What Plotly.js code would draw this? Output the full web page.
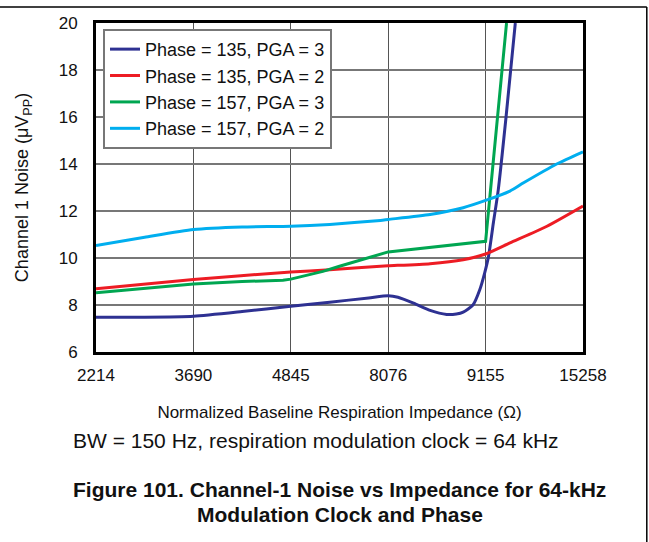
<!DOCTYPE html>
<html>
<head>
<meta charset="utf-8">
<script src="https://cdn.plot.ly/plotly-3.0.1.min.js"></script>
<style>html,body{margin:0;padding:0;background:#fff;}#chart{width:649px;height:542px;}</style>
</head>
<body>
<div id="chart"></div>
<script>
// Category tick labels (impedance, ohms) placed at equally spaced positions 0..5
const tickLabels = ['2214', '3690', '4845', '8076', '9155', '15258'];
const tickPositions = [0, 1, 2, 3, 4, 5];

// Series: x in category-index units, y in µVpp
const navyName = 'Phase = 135, PGA = 3';
const navyX = [0, 0.5, 1.0, 1.5, 2.0, 2.4, 2.8, 3.0, 3.1, 3.26, 3.43, 3.6, 3.7, 3.77, 3.87, 3.94, 3.99, 4.03, 4.08, 4.13, 4.21, 4.305];
const navyY = [7.48, 7.48, 7.52, 7.72, 7.95, 8.12, 8.3, 8.39, 8.33, 8.08, 7.77, 7.6, 7.62, 7.70, 8.0, 8.65, 9.36, 10.07, 11.5, 12.9, 16, 20];

const redName = 'Phase = 135, PGA = 2';
const redX = [0, 1, 2, 2.4, 2.92, 3.0, 3.43, 3.77, 4.0, 4.25, 4.63, 5.0];
const redY = [8.69, 9.09, 9.40, 9.50, 9.65, 9.67, 9.76, 9.93, 10.17, 10.64, 11.35, 12.21];

const greenName = 'Phase = 157, PGA = 3';
const greenX = [0, 1, 1.5, 1.92, 2.0, 2.16, 2.33, 2.5, 3.0, 4.0, 4.04, 4.12, 4.215];
const greenY = [8.52, 8.89, 9.0, 9.05, 9.1, 9.25, 9.43, 9.65, 10.26, 10.71, 12.5, 16, 20];

const blueName = 'Phase = 157, PGA = 2';
const blueX = [0, 0.5, 1.0, 1.5, 2.0, 2.4, 2.92, 3.0, 3.43, 3.77, 4.0, 4.25, 4.39, 4.73, 5.0];
const blueY = [10.53, 10.88, 11.21, 11.32, 11.35, 11.43, 11.6, 11.64, 11.85, 12.14, 12.45, 12.85, 13.2, 14.0, 14.52];

const FONT = 'Liberation Sans, Arial, Helvetica, sans-serif';

function tr(name, x, y, color, group, shape) {
  return {x: x, y: y, name: name, mode: 'lines', type: 'scatter', legendgroup: group,
          line: {color: color, width: 3, shape: shape, smoothing: 0.6}, cliponaxis: true};
}

const data = [
  tr(navyName, navyX, navyY, '#2e3192', 'a', 'spline'),
  tr(redName, redX, redY, '#ed1c24', 'b', 'spline'),
  tr(greenName, greenX, greenY, '#00a651', 'c', 'linear'),
  tr(blueName, blueX, blueY, '#00aeef', 'd', 'spline')
];

const layout = {
  width: 649, height: 542,
  margin: {l: 96, r: 66, t: 23, b: 190},
  paper_bgcolor: '#fff', plot_bgcolor: '#fff',
  font: {family: FONT, color: '#111', size: 17},
  showlegend: true,
  legend: {x: 0.0144, y: 0.982, xanchor: 'left', yanchor: 'top',
           bgcolor: '#fff', bordercolor: '#777', borderwidth: 2,
           entrywidth: 236, entrywidthmode: 'pixels',
           font: {family: FONT, size: 18, color: '#111'}, tracegroupgap: 0},
  xaxis: {range: [0, 5], tickvals: tickPositions, ticktext: tickLabels,
          showgrid: true, gridcolor: '#555', gridwidth: 1.2, zeroline: false,
          showline: true, linecolor: '#000', linewidth: 3, mirror: true,
          ticks: '', ticklabelstandoff: 6, tickfont: {size: 17, family: FONT},
          title: {text: 'Normalized Baseline Respiration Impedance (Ω)', font: {size: 17, family: FONT}, standoff: 22}},
  yaxis: {range: [6, 20], dtick: 2, tick0: 6,
          showgrid: true, gridcolor: '#777', gridwidth: 2, zeroline: false,
          showline: true, linecolor: '#000', linewidth: 3, mirror: true,
          ticks: '', ticklabelstandoff: 12, tickfont: {size: 17, family: FONT},
          title: {text: 'Channel 1 Noise (μV<sub>PP</sub>)', font: {size: 18, family: FONT}, standoff: 26}},
  shapes: [
    {type: 'line', xref: 'paper', yref: 'paper', x0: -0.21, x1: 1.131, y0: 1.0486, y1: 1.0486, line: {color: '#000', width: 1.5}},
    {type: 'line', xref: 'paper', yref: 'paper', x0: 1.131, x1: 1.131, y0: 1.0486, y1: -0.6, line: {color: '#000', width: 1.5}}
  ],
  annotations: [
    {xref: 'paper', yref: 'paper', x: 0.452, y: -0.2705, xanchor: 'center', yanchor: 'middle', showarrow: false,
     text: 'BW = 150 Hz, respiration modulation clock = 64 kHz', font: {size: 21, family: FONT, color: '#111'}},
    {xref: 'paper', yref: 'paper', x: 0.5, y: -0.419, xanchor: 'center', yanchor: 'middle', showarrow: false,
     text: '<b>Figure 101. Channel-1 Noise vs Impedance for 64-kHz</b>', font: {size: 21, family: FONT, color: '#111'}},
    {xref: 'paper', yref: 'paper', x: 0.5, y: -0.495, xanchor: 'center', yanchor: 'middle', showarrow: false,
     text: '<b>Modulation Clock and Phase</b>', font: {size: 21, family: FONT, color: '#111'}}
  ]
};

Plotly.newPlot('chart', data, layout, {staticPlot: true, displayModeBar: false});
</script>
</body>
</html>
